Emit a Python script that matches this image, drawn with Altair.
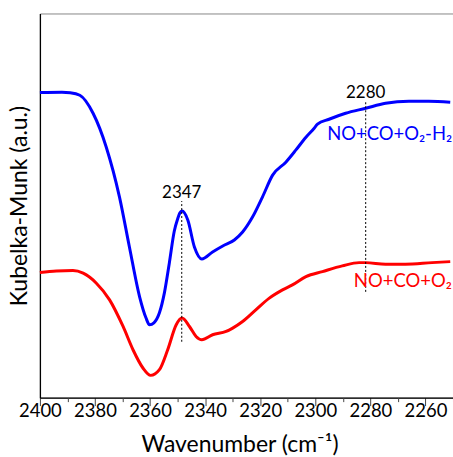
import altair as alt
import pandas as pd

# Blue: NO+CO+O2-H2
blue_wn = [2400, 2392, 2389, 2385.5, 2380.7, 2375.9, 2371.1, 2367.5, 2363.8, 2361.5, 2360.2,
           2358.6, 2356.6, 2354.8, 2353, 2351.2, 2350, 2349.2, 2348.4, 2346.3, 2343.9, 2341.2,
           2337.3, 2333.6, 2329.4, 2326.4, 2322.8, 2319.2, 2315.5, 2310.7, 2307.1, 2303.4,
           2300.4, 2299.2, 2295, 2289, 2281.7, 2274.5, 2266, 2258.8, 2251]
blue_km = [305.7, 306, 305.5, 303, 285, 251, 201, 151, 101, 80, 73,
           75, 85, 105, 135, 167, 179, 185, 187, 178, 151, 139,
           146, 152, 158, 166, 181, 201, 223, 236, 248, 261,
           270, 274, 279, 285, 290, 295, 297, 297, 296]

# Red: NO+CO+O2
red_wn = [2400, 2394, 2388, 2384.3, 2379.5, 2374.7, 2369.8, 2366.2, 2362.6, 2359.8, 2356.6,
          2353.6, 2350.5, 2348.4, 2345.7, 2343.3, 2341.2, 2337.3, 2332.4, 2330, 2326.4, 2321.6,
          2316.7, 2311.9, 2308.3, 2303.4, 2297.4, 2290.2, 2284.1, 2281.7, 2274.5, 2267.3,
          2257.6, 2251]
red_km = [125.3, 127, 127.3, 124.7, 114.7, 98, 71.3, 48, 29.7, 22.3, 28,
          48, 73, 79.7, 71.3, 61.3, 58, 63, 66.3, 69.7, 76.3, 88,
          99.7, 108, 113, 121.3, 126.3, 132, 135.3, 135.3, 133.7, 133.7,
          135.3, 136.3]

# Dotted marker lines
mark_wn = [2348.5, 2281.7]
mark_lo = [56, 106]
mark_hi = [197, 297]
mark_text = ["2347", "2280"]
mark_text_y = [200, 300]

# Series labels
label_text = ["NO+CO+O₂-H₂", "NO+CO+O₂"]
label_wn = [2295.7, 2286.0]
label_y = [258, 111]
label_color = ["#0000FF", "#FF0000"]

major_ticks = [2400, 2380, 2360, 2340, 2320, 2300, 2280, 2260]
minor_ticks = [2390, 2370, 2350, 2330, 2310, 2290, 2270, 2250]

FONT = "Lato"

lines_df = pd.concat([
    pd.DataFrame({"wn": blue_wn, "km": blue_km, "series": "blue"}),
    pd.DataFrame({"wn": red_wn, "km": red_km, "series": "red"}),
])
marks_df = pd.DataFrame({"wn": mark_wn, "lo": mark_lo, "hi": mark_hi,
                         "t": mark_text, "ty": mark_text_y})
labels_df = pd.DataFrame({"t": label_text, "wn": label_wn, "y": label_y, "c": label_color})

xscale = alt.Scale(domain=[2250, 2400], reverse=True, nice=False, zero=False)
yscale = alt.Scale(domain=[0, 385], nice=False, zero=False)

main_xaxis = alt.Axis(values=major_ticks, orient="bottom", format="d", tickSize=8,
                      tickColor="#444", tickWidth=1, domainColor="black", domainWidth=1.3,
                      labelFont=FONT, labelFontSize=18.5, labelColor="black",
                      labelPadding=-4, labelBaseline="top", labelFlush=False,
                      labelOverlap=False,
                      grid=False, title="Wavenumber (cm⁻¹)", titleFont=FONT,
                      titleFontSize=23, titleFontWeight="normal", titleColor="black",
                      titleBaseline="alphabetic", titleY=54, titleX=200)
yaxis = alt.Axis(orient="left", ticks=False, labels=False, grid=False, domainColor="black",
                 domainWidth=1.3, title="Kubelka-Munk (a.u.)", titleFont=FONT,
                 titleFontSize=23, titleFontWeight="normal", titleColor="black",
                 titleBaseline="alphabetic", titleX=-13)

lines = alt.Chart(lines_df).mark_line(strokeWidth=3, interpolate="monotone").encode(
    x=alt.X("wn:Q", scale=xscale, axis=main_xaxis),
    y=alt.Y("km:Q", scale=yscale, axis=yaxis),
    color=alt.Color("series:N", scale=alt.Scale(domain=["blue", "red"],
                                                range=["#0000FF", "#FF0000"]), legend=None),
    order=alt.Order("wn:Q", sort="descending"),
)

rules = alt.Chart(marks_df).mark_rule(color="black", strokeDash=[2, 2], strokeWidth=1).encode(
    x=alt.X("wn:Q", scale=xscale,
            axis=alt.Axis(values=minor_ticks, orient="bottom", tickSize=4, tickColor="#444",
                          labels=False, domain=False, grid=False, title=None)),
    y=alt.Y("lo:Q", scale=yscale, axis=None),
    y2="hi:Q",
)

mark_labels = alt.Chart(marks_df).mark_text(font=FONT, fontSize=17, color="black",
                                            align="center", baseline="alphabetic").encode(
    x=alt.X("wn:Q", scale=xscale, axis=None),
    y=alt.Y("ty:Q", scale=yscale, axis=None),
    text="t:N",
)

series_labels = alt.Chart(labels_df).mark_text(font=FONT, fontSize=18.5, align="left",
                                               baseline="alphabetic").encode(
    x=alt.X("wn:Q", scale=xscale, axis=None),
    y=alt.Y("y:Q", scale=yscale, axis=None),
    text="t:N",
    color=alt.Color("c:N", scale=None, legend=None),
)

chart = alt.layer(lines, rules, mark_labels, series_labels).resolve_axis(
    x="independent", y="independent"
).properties(
    width=414, height=385,
    padding={"left": 40, "top": 13, "right": 0, "bottom": 59},
    autosize=alt.AutoSizeParams(type="none"),
).configure_view(stroke="#888888", strokeWidth=1)

chart.save("out.html", embed_options={"renderer": "svg", "actions": False})
